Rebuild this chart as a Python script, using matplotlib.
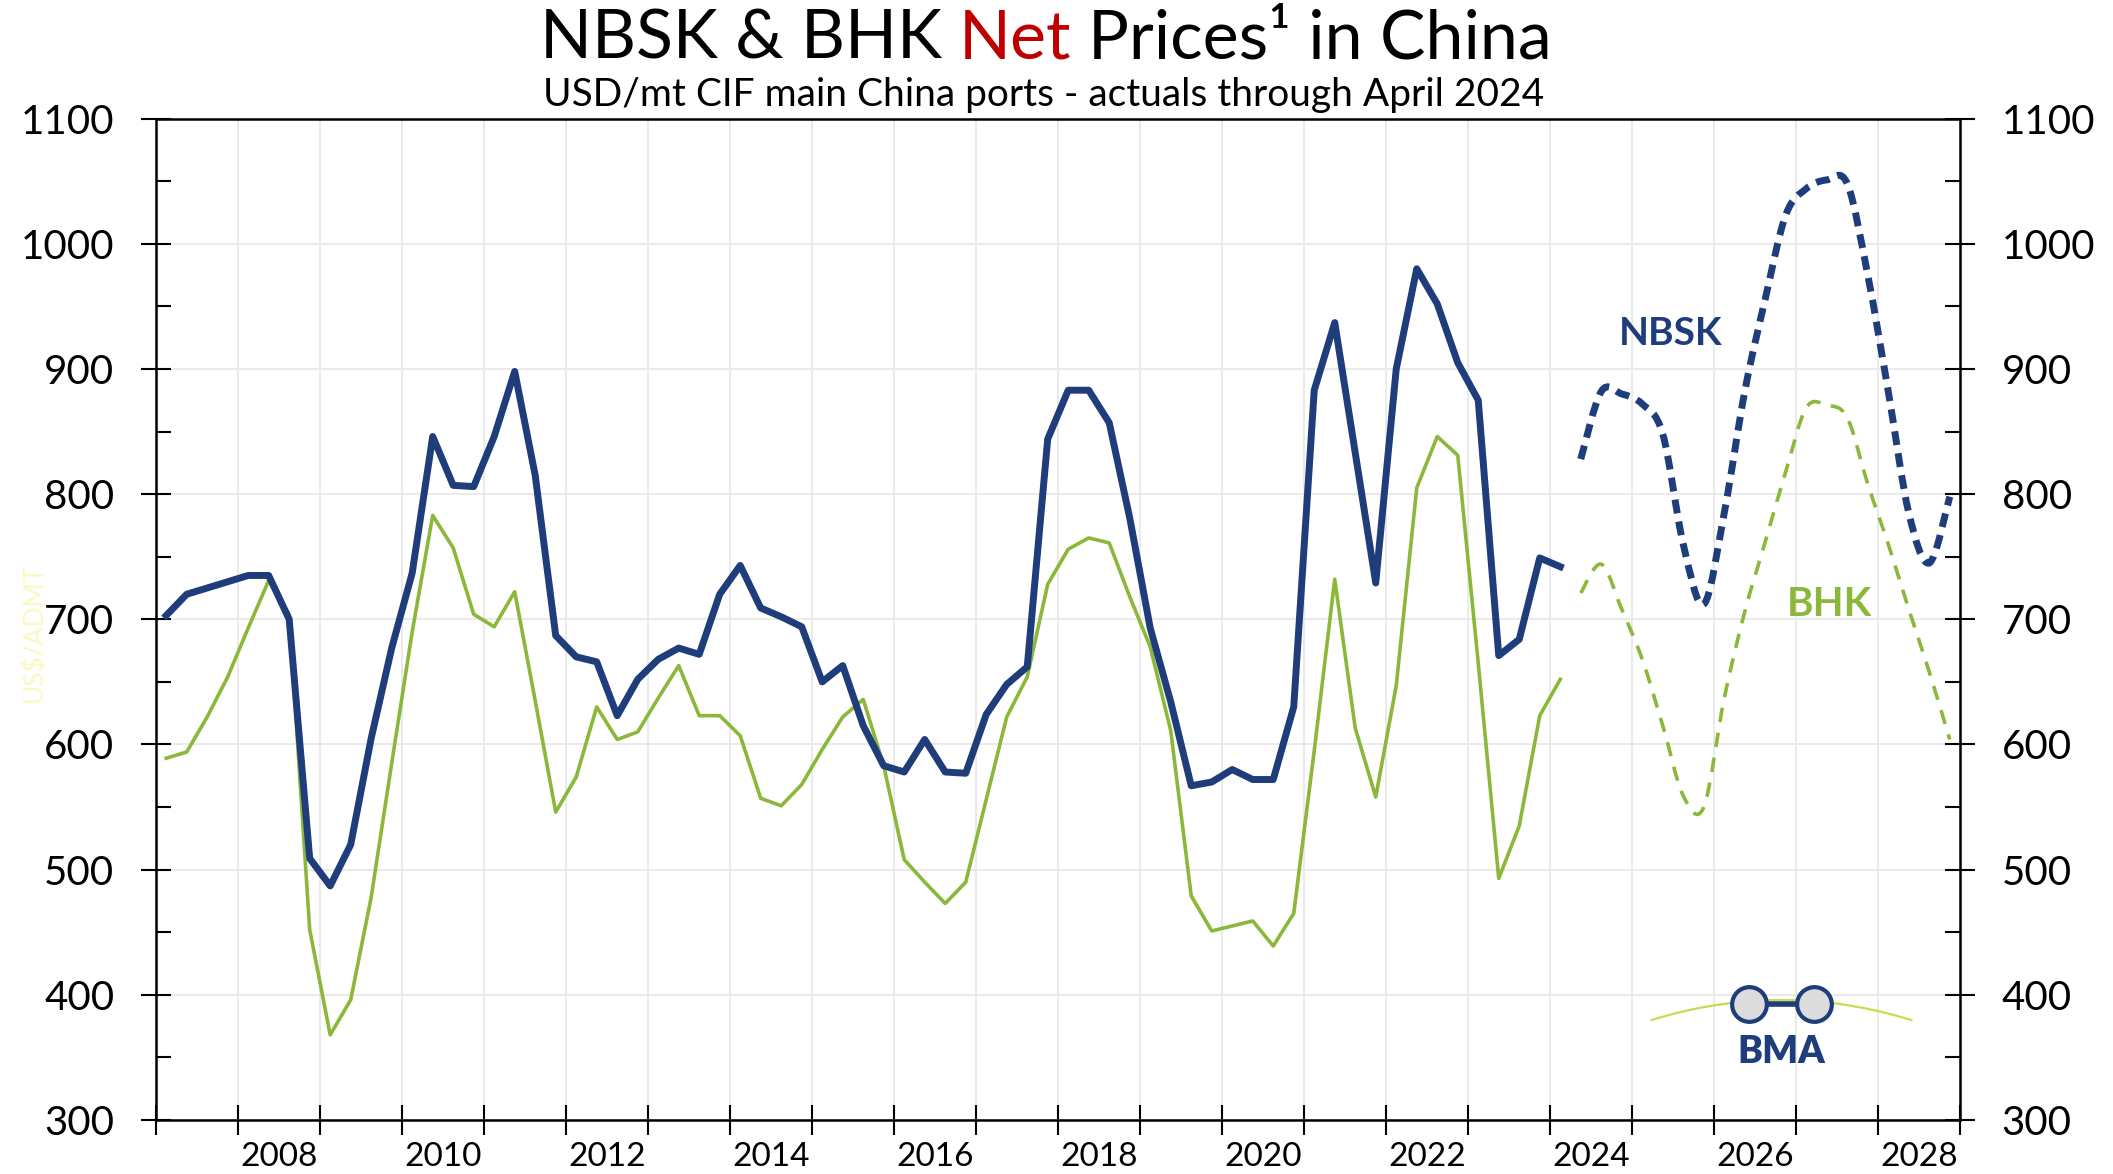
import matplotlib
matplotlib.use("Agg")
import matplotlib.pyplot as plt
import numpy as np
from matplotlib.path import Path
from matplotlib.patches import PathPatch
from matplotlib.offsetbox import TextArea, HPacker, AnchoredOffsetbox
from matplotlib.ticker import MultipleLocator, FixedLocator, FixedFormatter, NullFormatter

plt.rcParams['font.family'] = ['Lato', 'DejaVu Sans']

# quarterly net prices, USD/mt, actuals 2007Q1 .. 2024Q1
first_year = 2007
nbsk_actual = [703, 720, 725, 730,
               735, 735, 700, 509,
               487, 520, 605, 677,
               737, 846, 807, 806,
               846, 898, 815, 687,
               670, 666, 623, 652,
               668, 677, 672, 720,
               743, 709, 702, 694,
               650, 663, 615, 583,
               578, 604, 578, 577,
               624, 648, 662, 844,
               883, 883, 857, 781,
               693, 634, 567, 570,
               580, 572, 572, 630,
               883, 937, 833, 729,
               900, 980, 952, 905,
               875, 671, 684, 749,
               742]
bhk_actual = [589, 594, 622, 654,
              693, 731, 704, 452,
              368, 396, 478, 585,
              690, 783, 757, 704,
              694, 722, 635, 546,
              574, 630, 604, 610,
              637, 663, 623, 623,
              607, 557, 551, 568,
              596, 622, 636, 583,
              508, 490, 473, 490,
              556, 622, 654, 728,
              756, 765, 761, 718,
              678, 611, 479, 451,
              455, 459, 439, 465,
              595, 732, 613, 558,
              647, 805, 846, 831,
              665, 493, 535, 623,
              652]
# forecast 2024Q2 .. 2028Q4
nbsk_fcst = [828, 882, 880, 872, 848, 760, 712, 785, 882, 956,
             1023, 1044, 1051, 1048, 975, 882, 785, 745, 798]
bhk_fcst = [721, 744, 708, 668, 615, 559, 550, 637, 706, 762,
            818, 869, 871, 861, 808, 760, 708, 658, 604]
year_labels = ['2008', '2010', '2012', '2014', '2016', '2018',
               '2020', '2022', '2024', '2026', '2028']

NAVY = '#1f3d7a'
GREEN = '#8bb83a'


def quarter_x(start, n):
    idx = np.arange(start, start + n)
    return first_year + (idx + 0.5) / 4


def smooth_path(x, y):
    # excel-like smoothed line drawn as cubic bezier through the points
    pts = np.column_stack([x, y]).astype(float)
    ext = np.vstack([pts[0], pts, pts[-1]])
    verts = [pts[0]]
    codes = [Path.MOVETO]
    for i in range(len(pts) - 1):
        p0, p1, p2, p3 = ext[i], ext[i + 1], ext[i + 2], ext[i + 3]
        verts += [p1 + (p2 - p0) / 6, p2 - (p3 - p1) / 6, p2]
        codes += [Path.CURVE4] * 3
    return Path(verts, codes)


x_act = quarter_x(0, len(nbsk_actual))
x_fc = quarter_x(len(nbsk_actual), len(nbsk_fcst))

fig = plt.figure(figsize=(21.13, 11.74), dpi=100)
ax = fig.add_axes([0.0738, 0.046, 0.8538, 0.853])

ax.plot(x_act, bhk_actual, color=GREEN, lw=2.6, zorder=3)
ax.plot(x_act, nbsk_actual, color=NAVY, lw=5, zorder=4)
ax.add_patch(PathPatch(smooth_path(x_fc, bhk_fcst), fill=False, edgecolor=GREEN,
                       lw=2.6, linestyle=(0, (4, 3)), capstyle='butt', zorder=3))
ax.add_patch(PathPatch(smooth_path(x_fc, nbsk_fcst), fill=False, edgecolor=NAVY,
                       lw=5, linestyle=(0, (2, 1.2)), capstyle='butt', zorder=4))

ax.text(2025.47, 928, 'NBSK', color=NAVY, fontsize=28, fontweight='bold',
        ha='center', va='center')
ax.text(2027.41, 712, 'BHK', color=GREEN, fontsize=29, fontweight='bold',
        ha='center', va='center')

ax.set_xlim(2007, 2029)
ax.set_ylim(300, 1100)

ax.xaxis.set_major_locator(MultipleLocator(1))
ax.xaxis.set_major_formatter(NullFormatter())
ax.xaxis.set_minor_locator(FixedLocator([int(y) + 0.5 for y in year_labels]))
ax.xaxis.set_minor_formatter(FixedFormatter(year_labels))
ax.tick_params(axis='x', which='major', direction='inout', length=22, width=1.5)
ax.tick_params(axis='x', which='minor', length=0, labelsize=24, pad=16)

ax.yaxis.set_major_locator(MultipleLocator(100))
ax.yaxis.set_minor_locator(MultipleLocator(50))
ax.tick_params(axis='y', which='major', direction='inout', length=22, width=1.5,
               left=True, right=True, labelleft=True, labelright=True,
               labelsize=29, pad=19)
ax.tick_params(axis='y', which='minor', direction='in', length=11, width=1.5,
               left=True, right=True)

for s in ax.spines.values():
    s.set_linewidth(1.8)

ax.grid(True, which='major', color='#e8e8e8', lw=1.3)
ax.set_axisbelow(True)

# faint axis caption
fig.text(0.016, 0.461, 'US$/ADMT', rotation=90, color='#fbf8c4', fontsize=19,
         ha='center', va='center')

# title with coloured word
parts = [TextArea('NBSK & BHK', textprops=dict(color='black', fontsize=49)),
         TextArea('Net', textprops=dict(color='#c00000', fontsize=49)),
         TextArea('Prices¹ in China', textprops=dict(color='black', fontsize=49))]
title = AnchoredOffsetbox(loc='center', child=HPacker(children=parts, align='baseline', pad=0, sep=12),
                          pad=0, borderpad=0, frameon=False,
                          bbox_to_anchor=(0.495, 0.966), bbox_transform=fig.transFigure)
fig.add_artist(title)
fig.text(0.494, 0.919, 'USD/mt CIF main China ports - actuals through April 2024',
         ha='center', va='center', fontsize=28)

# BMA logo
arc_x = np.linspace(0.829, 0.973, 60)
arc_y = 0.0998 + 0.02 * (1 - ((arc_x - 0.901) / 0.072) ** 2)
ax.plot(arc_x, arc_y, color='#c8dc50', lw=1.6, transform=ax.transAxes, zorder=5)
ax.plot([0.883, 0.919], [0.116, 0.116], color=NAVY, lw=4, transform=ax.transAxes, zorder=5)
ax.plot([0.883, 0.919], [0.116, 0.116], 'o', ms=25, mfc='#dcdcdc', mec=NAVY, mew=3,
        transform=ax.transAxes, zorder=6)
ax.text(0.901, 0.068, 'BMA', color=NAVY, fontsize=27, fontweight='heavy',
        ha='center', va='center', transform=ax.transAxes, zorder=6)

fig.savefig('out.png', dpi=100)
